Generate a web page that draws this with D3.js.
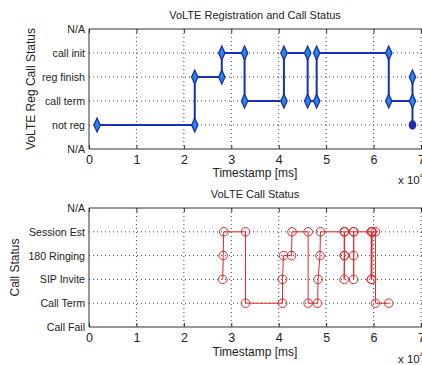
<!DOCTYPE html>
<html>
<head>
<meta charset="utf-8">
<script src="https://cdn.jsdelivr.net/npm/d3@7"></script>
<style>
    body { margin: 0; background: #fff; }
    svg { display: block; font-family: 'Liberation Sans', Arial, sans-serif; }
    .grid line { stroke: #444; stroke-dasharray: 1,3; stroke-width: 1; }
    .box { fill: none; stroke: #333; stroke-width: 1; }
</style>
</head>
<body>
<svg id="chart"></svg>
<script>
// time axis, in units of 10^4 ms
const xTicks = [0, 1, 2, 3, 4, 5, 6, 7];

const regLevels = ['N/A', 'not reg', 'call term', 'reg finish', 'call init', 'N/A'];
const regTimes = [0.17, 2.23, 2.23, 2.8, 2.8, 3.28, 3.28, 4.11, 4.11, 4.61, 4.61, 4.8, 4.8, 6.32, 6.32, 6.82, 6.82, 6.82];
const regStates = [1, 1, 3, 3, 4, 4, 2, 2, 4, 4, 2, 2, 4, 4, 2, 2, 3, 1];

const callLevels = ['Call Fail', 'Call Term', 'SIP Invite', '180 Ringing', 'Session Est', 'N/A'];
const callTimes = [2.82, 2.83, 2.84, 3.3, 3.3, 4.08, 4.08, 4.1, 4.27, 4.28, 4.62, 4.62, 4.82, 4.83, 4.87, 4.88,
    5.38, 5.38, 5.38, 5.39, 5.39, 5.58, 5.58, 5.58, 5.58, 5.95, 5.95, 5.96, 5.96, 5.97, 6.04, 6.04, 6.32];
const callStates = [2, 3, 4, 4, 1, 1, 2, 3, 3, 4, 4, 1, 1, 2, 3, 4,
    4, 3, 2, 3, 4, 4, 3, 2, 4, 4, 2, 4, 2, 4, 4, 1, 1];

const width = 422, height = 365;
const svg = d3.select('#chart')
    .attr('width', width)
    .attr('height', height);

const x = d3.scaleLinear()
    .domain([0, 8])
    .range([89, 89 + 8 * 47.43]);

function drawPanel({ top, bottom, levels, title, titleY, label, labelX, xLabelY, expY }) {
    const y = d3.scaleLinear()
        .domain([0, levels.length - 1])
        .range([bottom, top]);

    const g = svg.append('g');

    // dotted grid
    const grid = g.append('g').attr('class', 'grid');
    grid.selectAll('.gx')
        .data(xTicks.slice(1))
        .enter().append('line')
            .attr('x1', d => x(d)).attr('x2', d => x(d))
            .attr('y1', top).attr('y2', bottom);
    grid.selectAll('.gy')
        .data(d3.range(1, levels.length - 1))
        .enter().append('line')
            .attr('x1', x(0)).attr('x2', width)
            .attr('y1', d => y(d)).attr('y2', d => y(d));

    // box
    g.append('path')
        .attr('class', 'box')
        .attr('d', `M${width + 5},${top}H${x(0)}V${bottom}H${width + 5}`);

    const xAxisB = d3.axisBottom(x).tickValues(xTicks).tickSize(-4).tickPadding(6);
    g.append('g')
        .attr('transform', `translate(0, ${bottom})`)
        .call(xAxisB)
        .call(a => a.select('.domain').remove())
        .call(a => a.selectAll('line').attr('stroke', '#333'))
        .call(a => a.selectAll('text').attr('font-size', 12.5).attr('fill', '#222').attr('font-family', 'Liberation Sans, Arial'));

    g.append('g')
        .attr('transform', `translate(0, ${top})`)
        .call(d3.axisTop(x).tickValues(xTicks).tickSize(-4).tickFormat(''))
        .call(a => a.select('.domain').remove())
        .call(a => a.selectAll('line').attr('stroke', '#333'));

    const yAxis = d3.axisLeft(y)
        .tickValues(d3.range(levels.length))
        .tickFormat(i => levels[i])
        .tickSize(0)
        .tickPadding(4);
    g.append('g')
        .attr('transform', `translate(${x(0)}, 0)`)
        .call(yAxis)
        .call(a => a.select('.domain').remove())
        .call(a => a.selectAll('text').attr('font-size', 10.6).attr('fill', '#222').attr('font-family', 'Liberation Sans, Arial'));

    g.append('text')
        .attr('x', 255).attr('y', titleY)
        .attr('text-anchor', 'middle')
        .attr('font-size', 11)
        .attr('fill', '#222')
        .text(title);

    g.append('text')
        .attr('transform', `translate(${labelX}, ${(top + bottom) / 2}) rotate(-90)`)
        .attr('text-anchor', 'middle')
        .attr('dy', '0.35em')
        .attr('font-size', 12)
        .attr('fill', '#222')
        .text(label);

    g.append('text')
        .attr('x', 255).attr('y', xLabelY)
        .attr('text-anchor', 'middle')
        .attr('font-size', 12)
        .attr('fill', '#222')
        .text('Timestamp [ms]');

    const exp = g.append('text')
        .attr('x', 398).attr('y', expY)
        .attr('font-size', 11.5)
        .attr('fill', '#222');
    exp.append('tspan').text('x 10');
    exp.append('tspan').attr('dy', -6).attr('font-size', 9).text('4');

    return { g, y };
}

// top panel
const reg = drawPanel({
    top: 29, bottom: 149, levels: regLevels,
    title: 'VoLTE Registration and Call Status', titleY: 19,
    label: 'VoLTE Reg Call Status', labelX: 31,
    xLabelY: 177, expY: 184
});

const regData = regTimes.map((t, i) => ({ t, s: regStates[i] }));

reg.g.append('path')
    .datum(regData)
    .attr('fill', 'none')
    .attr('stroke', '#1b2eb5')
    .attr('stroke-width', 2)
    .attr('d', d3.line().x(d => x(d.t)).y(d => reg.y(d.s)));

const diamond = d3.symbol().type(d3.symbolDiamond);
const last = regData.length - 1;
reg.g.selectAll('.mark')
    .data(regData)
    .enter().append('path')
        .attr('transform', d => `translate(${x(d.t)}, ${reg.y(d.s)}) scale(0.8, 1)`)
        .attr('d', (d, i) => i === last ? d3.symbol().type(d3.symbolCircle).size(50)() : diamond.size(55)())
        .attr('fill', (d, i) => i === last ? '#1b2eb5' : '#2b86e0')
        .attr('stroke', '#1b2eb5')
        .attr('stroke-width', 1.5);

// bottom panel
const call = drawPanel({
    top: 208, bottom: 327, levels: callLevels,
    title: 'VoLTE Call Status', titleY: 198,
    label: 'Call Status', labelX: 15,
    xLabelY: 356, expY: 363
});

const callData = callTimes.map((t, i) => ({ t, s: callStates[i] }));

call.g.append('path')
    .datum(callData)
    .attr('fill', 'none')
    .attr('stroke', '#e0282e')
    .attr('stroke-width', 1)
    .attr('d', d3.line().x(d => x(d.t)).y(d => call.y(d.s)));

call.g.selectAll('.mark')
    .data(callData)
    .enter().append('circle')
        .attr('cx', d => x(d.t))
        .attr('cy', d => call.y(d.s))
        .attr('r', 4.3)
        .attr('fill', 'none')
        .attr('stroke', '#e0282e')
        .attr('stroke-width', 1);
</script>
</body>
</html>
